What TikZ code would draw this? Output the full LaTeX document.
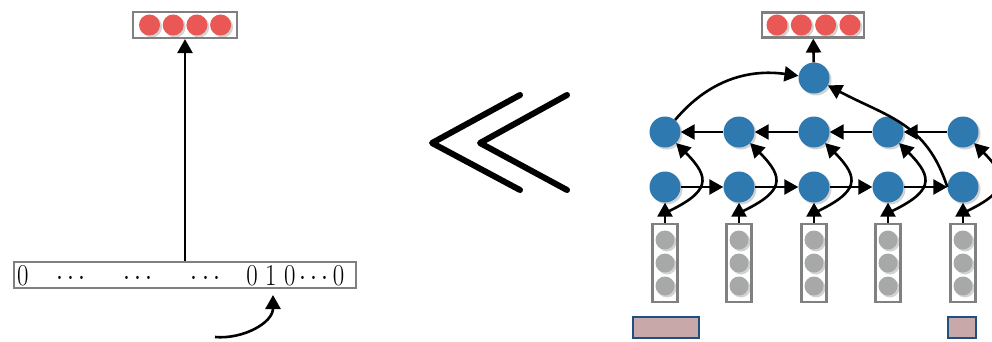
\documentclass[tikz,border=0pt]{standalone}
\usetikzlibrary{arrows.meta, shadows}

\definecolor{hidblue}{RGB}{46,122,176}
\definecolor{outred}{RGB}{234,88,86}
\definecolor{embgray}{RGB}{166,169,167}
\definecolor{boxgray}{RGB}{128,128,128}
\definecolor{tokpink}{RGB}{200,168,168}
\definecolor{tokblue}{RGB}{30,80,130}

\tikzset{
  arr/.style = {-{Triangle[length=14pt, width=15pt]}, line width=2.6pt},
  softshadow/.style = {drop shadow={shadow xshift=2pt, shadow yshift=-2pt, opacity=0.35}},
  hid/.style = {circle, fill=hidblue, minimum size=31pt, inner sep=0pt, softshadow},
  outdot/.style = {circle, fill=outred, minimum size=21pt, inner sep=0pt, softshadow},
  embdot/.style = {circle, fill=embgray, minimum size=19pt, inner sep=0pt, softshadow},
  vecbox/.style = {draw=boxgray, fill=white, line width=2.2pt, inner sep=0pt},
  tokbox/.style = {draw=tokblue, fill=tokpink, line width=2.6pt, inner sep=0pt}
}

\begin{document}
\begin{tikzpicture}[x=1pt, y=1pt]
  \useasboundingbox (0,0) rectangle (992,341);

  % one-hot input, left
  \begin{scope}
    \node[vecbox, minimum width=342, minimum height=26] (onehot) at (185,66) {};
    \node[anchor=west, inner sep=0pt, font=\fontsize{24.88}{28}\selectfont] (bits) at (17,65)
      {\scalebox{1}[1.22]{$0\hspace{24pt}\cdots\hspace{34pt}\cdots\hspace{34pt}\cdots\hspace{22pt}0\ 1\ 0\cdots0$}};
    \coordinate (cue) at (215,4);
    \coordinate (hot) at (273,46);
    \draw[arr] (cue) to[out=-5, in=-90] (hot);
  \end{scope}

  \begin{scope}
    \node[vecbox, minimum width=104, minimum height=26] (outL) at (185,316) {};
    \foreach \k in {0,...,3}
      \node[outdot] (outL-\k) at (149.5+23.7*\k,316) {};
    \draw[arr] (onehot) -- (outL);
  \end{scope}

  % much less than
  \begin{scope}[line width=6pt, line cap=round, line join=round]
    \draw (520,246) -- (432,198) -- (520,151);
    \draw (567,246) -- (480,198) -- (567,151);
  \end{scope}

  % bi-lstm, right
  \foreach \x [count=\i] in {665,739,814,888,963} {
    \node[vecbox, minimum width=25, minimum height=78] (e\i) at (\x,78) {};
    \foreach \y [count=\k] in {101,78,55}
      \node[embdot] (e\i-\k) at (\x,\y) {};
    \node[hid] (f\i) at (\x,154) {};
    \node[hid] (b\i) at (\x,209) {};
    \coordinate (j\i) at (\x,128);
  }
  \node[tokbox, minimum width=66, minimum height=21] (t1) at (666,13.5) {};
  \node[tokbox, minimum width=28, minimum height=21] (t5) at (962,13.5) {};

  \node[hid] (top) at (814,263) {};
  \node[vecbox, minimum width=102, minimum height=25] (outR) at (813,316) {};
  \foreach \k in {0,...,3}
    \node[outdot] (outR-\k) at (777+24.3*\k,316) {};

  \foreach \i in {1,...,5} {
    \draw[arr] (e\i) -- (f\i);
    \draw[arr] (j\i) to[out=25, in=-45, looseness=1.8] (b\i);
  }
  \foreach \i/\n in {1/2,2/3,3/4,4/5} {
    \draw[arr] (f\i) -- (f\n);
    \draw[arr] (b\n) -- (b\i);
  }
  \draw[arr] (b1) to[out=50, in=172] (top);
  \draw[arr] (f5.west) to[out=108, in=-28, looseness=1.1] (top);
  \draw[arr] (top) -- (outR);
\end{tikzpicture}
\end{document}
